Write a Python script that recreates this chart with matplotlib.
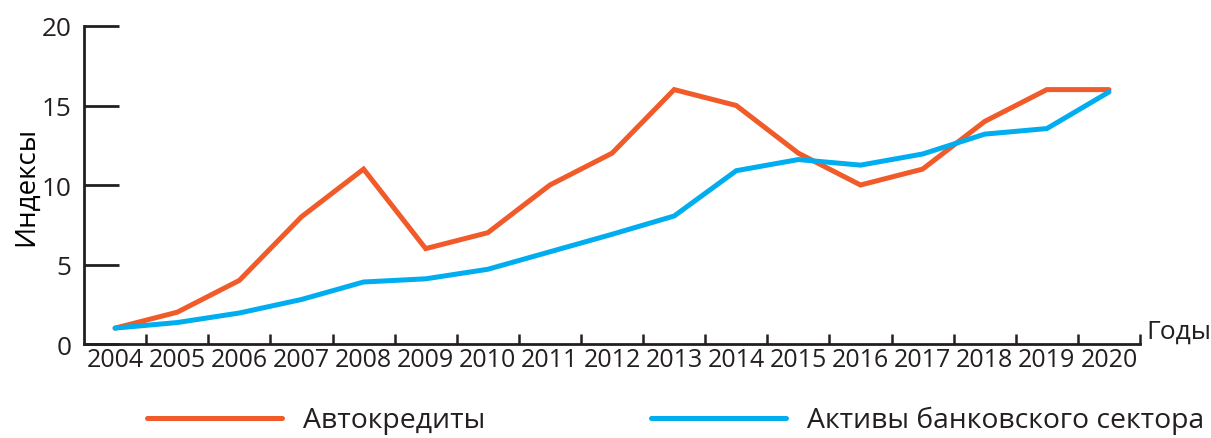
"""Auto loans vs banking sector assets indices, 2004-2020."""

import matplotlib.pyplot as plt
import numpy as np

plt.rcParams.update(
    {
        "font.family": ["Open Sans", "DejaVu Sans"],
        "font.size": 17,
        "text.color": "#231f20",
    }
)

years = [str(y) for y in range(2004, 2021)]
auto_loans = [1, 2, 4, 8, 11, 6, 7, 10, 12, 16, 15, 12, 10, 11, 14, 16, 16]
bank_assets = [1.0, 1.35, 1.95, 2.8, 3.9, 4.1, 4.7, 5.8, 6.9, 8.05, 10.9,
               11.6, 11.25, 11.95, 13.2, 13.55, 15.85]
y_ticks = [0, 5, 10, 15, 20]

ORANGE = "#f15a29"
BLUE = "#00aeef"
INK = "#231f20"

fig = plt.figure(figsize=(12.11, 4.39), dpi=100)
ax = fig.add_axes([0.0694, 0.2141, 0.8720, 0.7244])

x = np.arange(len(years))
ax.plot(x, auto_loans, color=ORANGE, linewidth=3.6, solid_capstyle="round",
        solid_joinstyle="miter", label="Автокредиты")
ax.plot(x, bank_assets, color=BLUE, linewidth=3.6, solid_capstyle="round",
        solid_joinstyle="miter", label="Активы банковского сектора")

ax.set_xlim(-0.5, len(years) - 0.5)
ax.set_ylim(0, 20)

# category axis: ticks at boundaries, labels at centres
ax.set_xticks(np.arange(0.5, len(years) - 0.4, 1.0))
ax.set_xticklabels([])
ax.set_xticks(x, minor=True)
ax.set_xticklabels(years, minor=True)
ax.tick_params(axis="x", which="major", direction="in", length=7, width=1.8,
               color=INK)
ax.tick_params(axis="x", which="minor", length=0, pad=2, labelsize=18,
               labelcolor=INK)

ax.set_yticks(y_ticks)
ax.tick_params(axis="y", direction="in", length=25, width=2, color=INK,
               labelsize=18.8, labelcolor=INK, pad=9)

for side in ("top", "right"):
    ax.spines[side].set_visible(False)
for side in ("left", "bottom"):
    ax.spines[side].set_linewidth(2)
    ax.spines[side].set_color(INK)

ax.set_ylabel("Индексы", fontsize=20, labelpad=1)
ax.text(1.006, 0.0, "Годы", transform=ax.transAxes, ha="left", va="bottom",
        fontsize=19)

fig.legend(loc="lower left", bbox_to_anchor=(0.1003, -0.05), ncol=2,
           frameon=False, handlelength=4.77, handletextpad=0.74,
           columnspacing=5.85, fontsize=20.4)

fig.savefig("out.png", dpi=100)
